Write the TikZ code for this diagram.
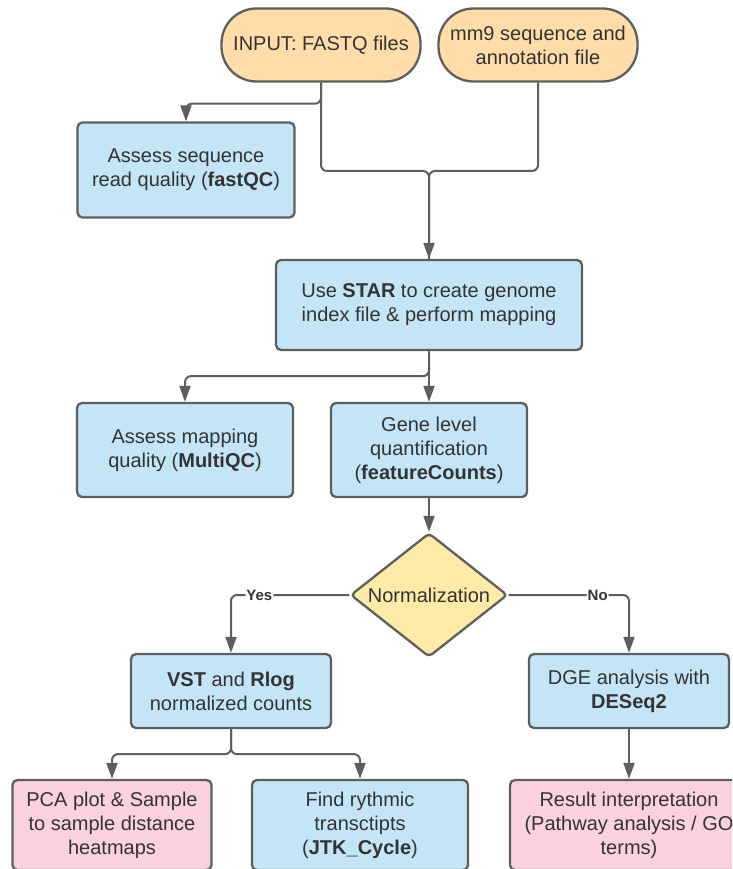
\documentclass[tikz,border=0pt]{standalone}
\usepackage{fontspec}
\setmainfont{Liberation Sans}
\usepackage{xcolor}
\usepackage{tikz}
\usetikzlibrary{arrows.meta,shapes.geometric}

\definecolor{pillorange}{HTML}{FFDCA8}
\definecolor{stepblue}{HTML}{C3E5F6}
\definecolor{resultpink}{HTML}{FAD2DE}
\definecolor{decisionyellow}{HTML}{FFEBA8}
\definecolor{edgegray}{HTML}{5E5E5E}
\definecolor{textgray}{HTML}{333333}
\newcommand{\boxfont}{\fontsize{20}{24}\selectfont}

\begin{document}
\begin{tikzpicture}[x=1pt, y=1pt,
        pill/.style={draw=edgegray, line width=2.3pt, fill=pillorange, rounded corners=35pt,
            minimum width=199pt, minimum height=73pt, align=center, text=textgray, font=\boxfont},
        stepbox/.style={draw=edgegray, line width=2.3pt, rounded corners=5pt, align=center,
            text=textgray, font=\boxfont},
        decision/.style={diamond, aspect=1.27, draw=edgegray, line width=2.3pt, fill=decisionyellow,
            minimum width=157pt, minimum height=124pt, inner sep=0pt, rounded corners=4pt,
            text=textgray, font=\boxfont},
        flow/.style={draw=edgegray, line width=2pt, rounded corners=6pt,
            -{Triangle[length=16pt,width=11pt]}},
        flowline/.style={draw=edgegray, line width=2pt, rounded corners=6pt},
        branchlabel/.style={fill=white, inner sep=1pt, text=textgray,
            font=\bfseries\fontsize{15}{15}\selectfont}
    ]
        \useasboundingbox (0,0) rectangle (732,-869);
        \clip (0,0) rectangle (732,-869);

        % Inputs
        \node[pill] (fastq) at (321,-45) {INPUT: FASTQ files};
        \node[pill] (genome) at (538,-45) {mm9 sequence and\\annotation file};

        % Quality checks and mapping
        \node[stepbox, fill=stepblue, minimum width=217pt, minimum height=95pt] (fastqc) at (186,-170) {Assess sequence\\read quality (\textbf{fastQC})};
        \node[stepbox, fill=stepblue, minimum width=306pt, minimum height=90pt] (star) at (429,-305) {Use \textbf{STAR} to create genome\\index file \& perform mapping};
        \node[stepbox, fill=stepblue, minimum width=216pt, minimum height=94pt] (multiqc) at (185,-450) {Assess mapping\\quality (\textbf{MultiQC})};
        \node[stepbox, fill=stepblue, minimum width=196pt, minimum height=94pt] (counts) at (429,-450) {Gene level\\quantification\\(\textbf{featureCounts})};

        % Decision
        \node[decision] (norm) at (429,-595) {Normalization};

        % Outcomes
        \node[stepbox, fill=stepblue, minimum width=200pt, minimum height=74pt] (vst) at (231,-691) {\textbf{VST} and \textbf{Rlog}\\normalized counts};
        \node[stepbox, fill=stepblue, minimum width=200pt, minimum height=74pt] (dge) at (629,-691) {DGE analysis with\\\textbf{DESeq2}};
        \node[stepbox, fill=resultpink, minimum width=199pt, minimum height=90pt] (pca) at (112,-825) {PCA plot \& Sample\\to sample distance\\heatmaps};
        \node[stepbox, fill=stepblue, minimum width=216pt, minimum height=90pt] (jtk) at (360,-825) {Find rythmic\\transctipts\\(\textbf{JTK\_Cycle})};
        \node[stepbox, fill=resultpink, minimum width=238pt, minimum height=90pt] (interp) at (629,-825) {Result interpretation\\(Pathway analysis / GO\\terms)};

        % Connectors
        \coordinate (merge) at (429,-171);
        \draw[flow] (fastq.south) -- ++(0,-21) -| (fastqc.north);
        \draw[flowline] (genome.south) |- (merge) -- (star.north);
        \draw[flow] (fastq.south) |- (merge) -- (star.north);
        \draw[flow] (star.south) -- ++(0,-25) -| (multiqc.north);
        \draw[flow] (star.south) -- (counts.north);
        \draw[flow] (counts.south) -- (norm.north);
        \draw[flow] (norm.west) -| node[branchlabel, pos=0.38] {Yes} (vst.north);
        \draw[flow] (norm.east) -| node[branchlabel, pos=0.37] {No} (dge.north);
        \draw[flow] (vst.south) -- ++(0,-25) -| (pca.north);
        \draw[flow] (vst.south) -- ++(0,-25) -| (jtk.north);
        \draw[flow] (dge.south) -- (interp.north);
    \end{tikzpicture}
\end{document}
